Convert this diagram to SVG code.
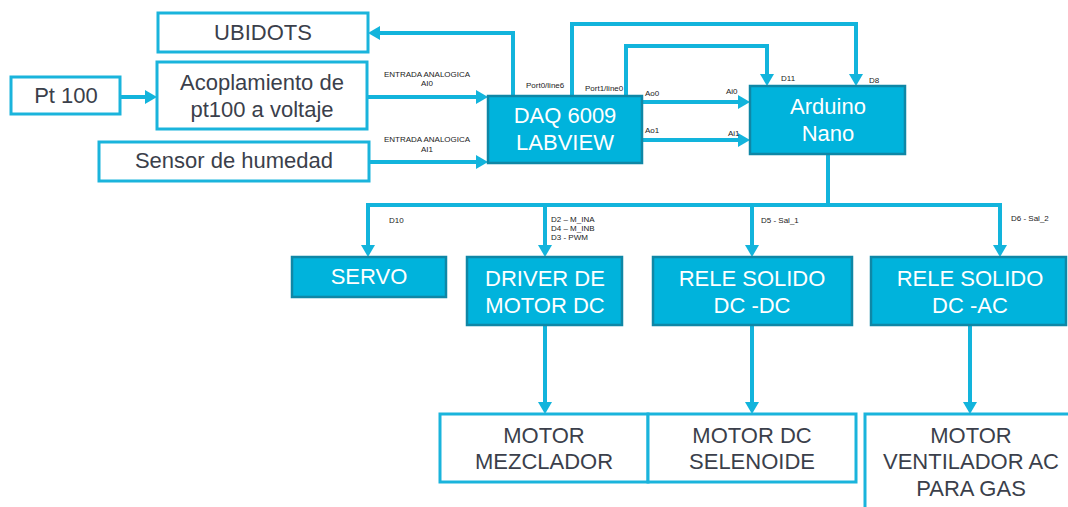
<svg xmlns="http://www.w3.org/2000/svg" width="1068" height="507" viewBox="0 0 1068 507">
  <style>
    .wbox { fill: #ffffff; stroke: #1ab4dc; stroke-width: 3; }
    .bbox { fill: #00b3dc; stroke: #0f87a6; stroke-width: 2.5; }
    .wt { font-family: "Liberation Sans", Arial, sans-serif; font-size: 22px; fill: #3b3f4b; text-anchor: middle; }
    .bt { font-family: "Liberation Sans", Arial, sans-serif; font-size: 22px; fill: #ffffff; text-anchor: middle; }
    .lbl { font-family: "Liberation Sans", Arial, sans-serif; font-size: 8px; fill: #222222; }
    .lblc { font-family: "Liberation Sans", Arial, sans-serif; font-size: 8px; fill: #222222; text-anchor: middle; }
    .wire { fill: none; stroke: #12b4dc; stroke-width: 4; marker-end: url(#ah); }
    .plain { fill: none; stroke: #12b4dc; stroke-width: 4; }
  </style>
  <defs>
    <marker id="ah" markerUnits="userSpaceOnUse" markerWidth="12" markerHeight="14" viewBox="0 0 12 14" refX="2" refY="7" orient="auto">
      <path d="M0,0 L12,7 L0,14 z" fill="#12b4dc"/>
    </marker>
  </defs>
  <rect width="1068" height="507" fill="#ffffff"/>

  <g id="connectors">
    <path class="wire" d="M120,97 L147,97"/>
    <path class="wire" d="M367,97 L478,97"/>
    <path class="wire" d="M369,162 L478,162"/>
    <path class="wire" d="M513,96 L513,33 L378,33"/>
    <path class="wire" d="M572,96 L572,24 L856,24 L856,76"/>
    <path class="wire" d="M626,96 L626,46 L767,46 L767,76"/>
    <path class="wire" d="M642,102 L740,102"/>
    <path class="wire" d="M642,140 L740,140"/>
    <path class="plain" d="M828,154 L828,205"/>
    <path class="plain" d="M366,205 L1002,205"/>
    <path class="wire" d="M368,205 L368,247"/>
    <path class="wire" d="M545,205 L545,247"/>
    <path class="wire" d="M752,205 L752,247"/>
    <path class="wire" d="M1000,205 L1000,247"/>
    <path class="wire" d="M545,325 L545,404"/>
    <path class="wire" d="M752,325 L752,404"/>
    <path class="wire" d="M970,325 L970,404"/>
  </g>

  <g id="labels">
    <text class="lblc" x="427" y="77">ENTRADA ANALOGICA</text>
    <text class="lblc" x="427" y="86">AI0</text>
    <text class="lblc" x="427" y="142">ENTRADA ANALOGICA</text>
    <text class="lblc" x="427" y="152">AI1</text>
    <text class="lbl" x="526" y="88">Port0/line6</text>
    <text class="lbl" x="585" y="91">Port1/line0</text>
    <text class="lbl" x="645" y="96">Ao0</text>
    <text class="lbl" x="726" y="94">Ai0</text>
    <text class="lbl" x="645" y="133">Ao1</text>
    <text class="lbl" x="728" y="136">Ai1</text>
    <text class="lbl" x="781" y="81">D11</text>
    <text class="lbl" x="869" y="83">D8</text>
    <text class="lbl" x="389" y="223">D10</text>
    <text class="lbl" x="551" y="222">D2 – M_INA</text>
    <text class="lbl" x="551" y="231">D4 – M_INB</text>
    <text class="lbl" x="551" y="240">D3 - PWM</text>
    <text class="lbl" x="761" y="223">D5 - Sal_1</text>
    <text class="lbl" x="1011" y="221">D6 - Sal_2</text>
  </g>

  <g id="ubidots">
    <rect class="wbox" x="158" y="13" width="210" height="39"/>
    <text class="wt" x="263" y="40">UBIDOTS</text>
  </g>
  <g id="pt100">
    <rect class="wbox" x="11" y="77" width="109" height="37"/>
    <text class="wt" x="66" y="103">Pt 100</text>
  </g>
  <g id="acoplamiento">
    <rect class="wbox" x="157" y="62" width="210" height="67"/>
    <text class="wt" x="262" y="90">Acoplamiento de</text>
    <text class="wt" x="262" y="117">pt100 a voltaje</text>
  </g>
  <g id="sensor">
    <rect class="wbox" x="99" y="142" width="270" height="39"/>
    <text class="wt" x="234" y="168">Sensor de humedad</text>
  </g>
  <g id="daq">
    <rect class="bbox" x="488" y="96" width="154" height="67"/>
    <text class="bt" x="565" y="123">DAQ 6009</text>
    <text class="bt" x="565" y="150">LABVIEW</text>
  </g>
  <g id="arduino">
    <rect class="bbox" x="750" y="86" width="155" height="68"/>
    <text class="bt" x="828" y="114">Arduino</text>
    <text class="bt" x="828" y="141">Nano</text>
  </g>
  <g id="servo">
    <rect class="bbox" x="292" y="257" width="154" height="40"/>
    <text class="bt" x="369" y="284">SERVO</text>
  </g>
  <g id="driver">
    <rect class="bbox" x="467" y="257" width="155" height="68"/>
    <text class="bt" x="545" y="286">DRIVER DE</text>
    <text class="bt" x="545" y="313">MOTOR DC</text>
  </g>
  <g id="rele-dcdc">
    <rect class="bbox" x="653" y="257" width="199" height="68"/>
    <text class="bt" x="752" y="286">RELE SOLIDO</text>
    <text class="bt" x="752" y="313">DC -DC</text>
  </g>
  <g id="rele-dcac">
    <rect class="bbox" x="871" y="257" width="195" height="68"/>
    <text class="bt" x="970" y="286">RELE SOLIDO</text>
    <text class="bt" x="970" y="313">DC -AC</text>
  </g>
  <g id="motor-mezclador">
    <rect class="wbox" x="440" y="414" width="208" height="68"/>
    <text class="wt" x="544" y="443">MOTOR</text>
    <text class="wt" x="544" y="469">MEZCLADOR</text>
  </g>
  <g id="motor-selenoide">
    <rect class="wbox" x="648" y="414" width="208" height="68"/>
    <text class="wt" x="752" y="443">MOTOR DC</text>
    <text class="wt" x="752" y="469">SELENOIDE</text>
  </g>
  <g id="motor-ventilador">
    <rect class="wbox" x="865" y="414" width="215" height="110"/>
    <text class="wt" x="971" y="443">MOTOR</text>
    <text class="wt" x="971" y="469">VENTILADOR AC</text>
    <text class="wt" x="971" y="496">PARA GAS</text>
  </g>
</svg>
